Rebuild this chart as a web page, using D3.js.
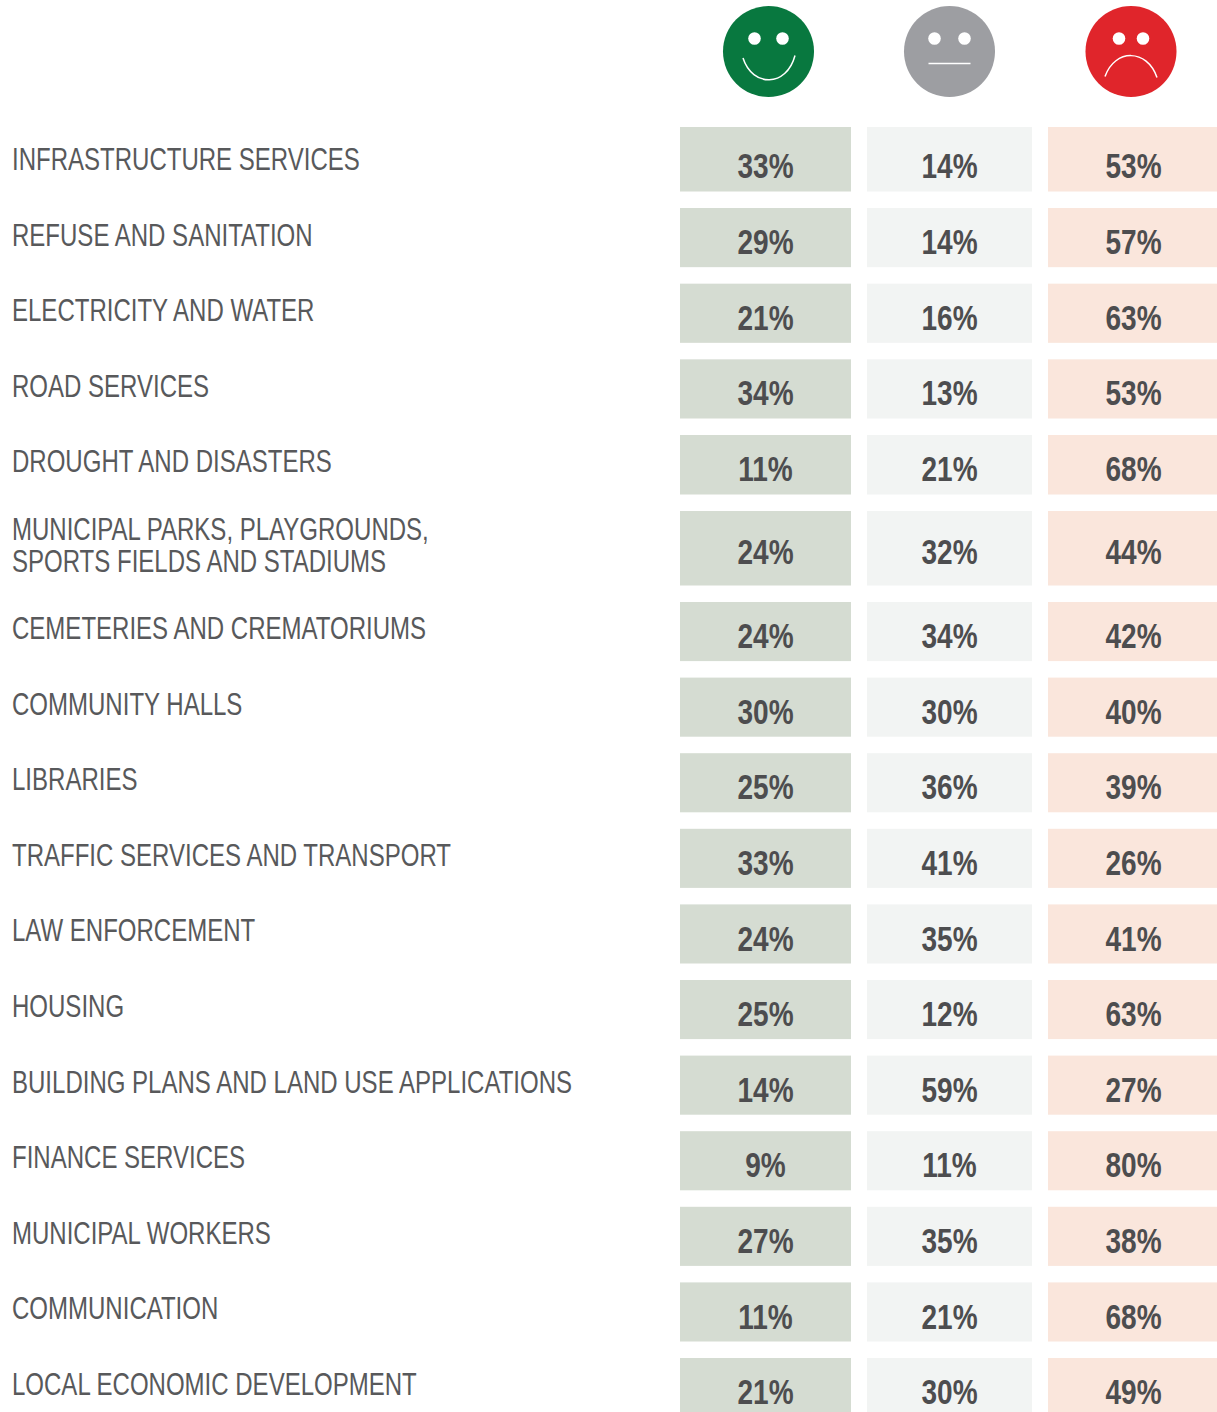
<!DOCTYPE html>
<html>
<head>
<meta charset="utf-8">
<script src="https://cdn.jsdelivr.net/npm/d3@7"></script>
<style>
  html, body { margin: 0; padding: 0; background: #fff; overflow: hidden; }
  text { font-family: "Liberation Sans", Arial, sans-serif; }
</style>
</head>
<body>
<div id="chart"></div>
<script>
const categories = [
  ['INFRASTRUCTURE SERVICES'],
  ['REFUSE AND SANITATION'],
  ['ELECTRICITY AND WATER'],
  ['ROAD SERVICES'],
  ['DROUGHT AND DISASTERS'],
  ['MUNICIPAL PARKS, PLAYGROUNDS,', 'SPORTS FIELDS AND STADIUMS'],
  ['CEMETERIES AND CREMATORIUMS'],
  ['COMMUNITY HALLS'],
  ['LIBRARIES'],
  ['TRAFFIC SERVICES AND TRANSPORT'],
  ['LAW ENFORCEMENT'],
  ['HOUSING'],
  ['BUILDING PLANS AND LAND USE APPLICATIONS'],
  ['FINANCE SERVICES'],
  ['MUNICIPAL WORKERS'],
  ['COMMUNICATION'],
  ['LOCAL ECONOMIC DEVELOPMENT']
]
const satisfied = [33, 29, 21, 34, 11, 24, 24, 30, 25, 33, 24, 25, 14, 9, 27, 11, 21]
const neutral = [14, 14, 16, 13, 21, 32, 34, 30, 36, 41, 35, 12, 59, 11, 35, 21, 30]
const dissatisfied = [53, 57, 63, 53, 68, 44, 42, 40, 39, 26, 41, 63, 27, 80, 38, 68, 49]

const width = 1217
const height = 1412

// rows are evenly spaced except the first and the two line one
const rowDomain = [0, 1, 4, 5, 6, 17]
const rowTop = d3.scaleLinear().domain(rowDomain).range([127, 208, 435, 511, 602, 1433.6])
const labelY = d3.scaleLinear().domain(rowDomain).range([170, 246, 472, 540, 639, 1470.6])
const valueY = d3.scaleLinear().domain(rowDomain).range([178, 254, 481, 564, 648, 1480])
const rowGap = 16.5

const columns = [
  { values: satisfied, x0: 680, x1: 851, textX: 765.5, fill: '#d5dcd2' },
  { values: neutral, x0: 867, x1: 1032, textX: 949.5, fill: '#f2f4f3' },
  { values: dissatisfied, x0: 1048, x1: 1217, textX: 1133.5, fill: '#fae6dc' }
]

const svg = d3.select('#chart')
  .append('svg')
    .attr('width', width)
    .attr('height', height)
    .style('display', 'block')

// faces
const faces = [
  { cx: 768.5, fill: '#08783f', eye: 14, mouth: [-25.5, 6.5, -16, 36, 18, 36, 26.5, 4] },
  { cx: 949.5, fill: '#9d9ea2', eye: 15, mouth: [-21, 12, -7, 12, 7, 12, 21, 12] },
  { cx: 1131, fill: '#e0252b', eye: 12, mouth: [-26, 25, -16, -3, 16, -3, 26, 26] }
]
const faceY = 51.5

const face = svg.append('g')
  .selectAll('g')
  .data(faces)
  .join('g')
    .attr('transform', d => `translate(${d.cx},${faceY})`)

face.append('circle')
  .attr('r', 45.5)
  .attr('fill', d => d.fill)

face.selectAll('.eye')
  .data(d => [-d.eye, d.eye])
  .join('circle')
    .attr('class', 'eye')
    .attr('cx', d => d)
    .attr('cy', -13)
    .attr('r', 6.3)
    .attr('fill', '#fff')

face.append('path')
  .attr('fill', 'none')
  .attr('stroke', '#fff')
  .attr('stroke-width', 1.5)
  .attr('d', d => {
    const m = d.mouth
    const p = d3.path()
    p.moveTo(m[0], m[1])
    p.bezierCurveTo(m[2], m[3], m[4], m[5], m[6], m[7])
    return p.toString()
  })

// row labels, no narrow face installed so squeeze the regular one
const labels = svg.append('g')
  .selectAll('text')
  .data(categories)
  .join('text')
    .attr('transform', (d, i) => `translate(12,${labelY(i)}) scale(0.775,1)`)
    .attr('fill', '#58595b')
    .attr('font-size', 31)

labels.selectAll('tspan')
  .data(d => d)
  .join('tspan')
    .attr('x', 0)
    .attr('dy', (d, i) => i ? 32 : 0)
    .text(d => d)

// cells
const column = svg.append('g')
  .selectAll('g')
  .data(columns)
  .join('g')

column.selectAll('rect')
  .data(d => d.values.map((v, i) => ({ v, i, col: d })))
  .join('rect')
    .attr('x', d => d.col.x0)
    .attr('y', d => rowTop(d.i))
    .attr('width', d => d.col.x1 - d.col.x0)
    .attr('height', d => rowTop(d.i + 1) - rowTop(d.i) - rowGap)
    .attr('fill', d => d.col.fill)

column.selectAll('text')
  .data(d => d.values.map((v, i) => ({ v, i, col: d })))
  .join('text')
    .attr('transform', d => `translate(${d.col.textX},${valueY(d.i)}) scale(0.8,1)`)
    .attr('text-anchor', 'middle')
    .attr('font-size', 35)
    .attr('font-weight', 700)
    .attr('fill', '#4d4d4f')
    .text(d => d.v + '%')
</script>
</body>
</html>
